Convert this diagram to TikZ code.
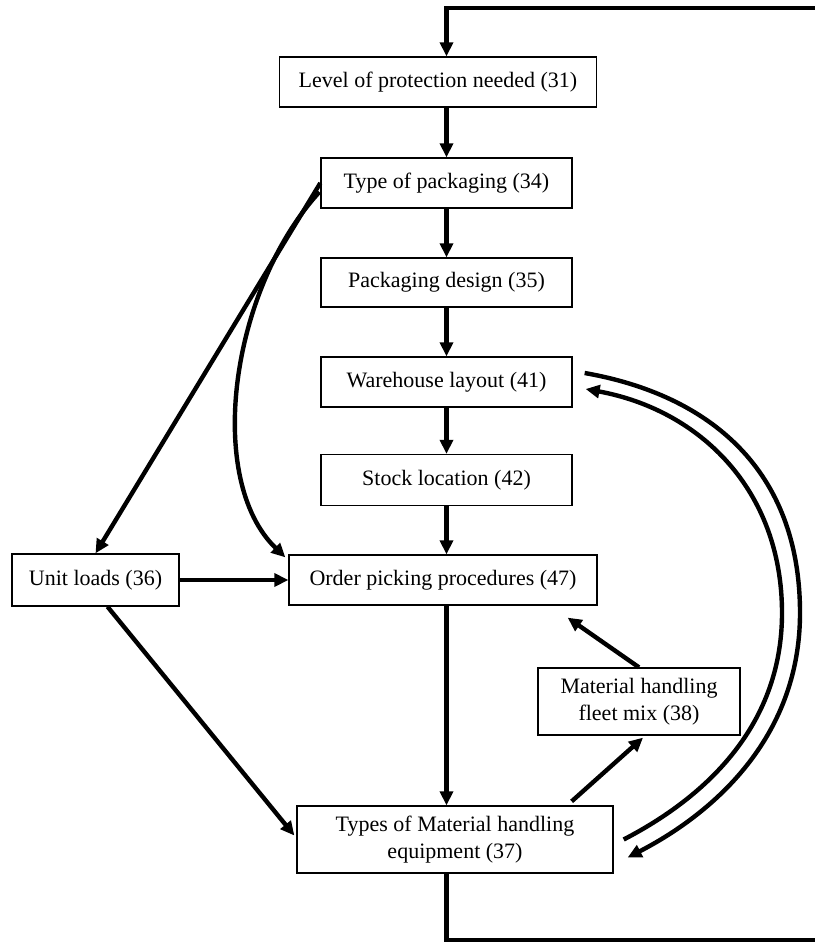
\documentclass[tikz,border=0pt]{standalone}
\usepackage{fontspec}
\setmainfont{Liberation Serif}
\usetikzlibrary{arrows.meta,calc}
\begin{document}
\begin{tikzpicture}[x=1pt,y=-1pt,
  box/.style={draw,line width=1.3pt,inner sep=0pt,align=center,
    font=\fontsize{22}{26.5}\selectfont},
  link/.style={line width=4.4pt,-{Triangle[length=14pt,width=13pt]}}]
\useasboundingbox (0,0) rectangle (814,942);

% boxes
\node[box,minimum width=317,minimum height=50] (lvl) at (438,82) {Level of protection needed (31)};
\node[box,minimum width=251,minimum height=50] (typ) at (446.5,183) {Type of packaging (34)};
\node[box,minimum width=251,minimum height=49] (des) at (446.5,282.5) {Packaging design (35)};
\node[box,minimum width=251,minimum height=50] (wh) at (446.5,382) {Warehouse layout (41)};
\node[box,minimum width=251,minimum height=51] (stk) at (446.5,480) {Stock location (42)};
\node[box,minimum width=308,minimum height=50] (ord) at (443,580) {Order picking procedures (47)};
\node[box,minimum width=167,minimum height=52] (unit) at (95.5,580) {Unit loads (36)};
\node[box,minimum width=316,minimum height=67] (mhe) at (455,839.5) {Types of Material handling\\equipment (37)};
\node[box,minimum width=202,minimum height=67] (fleet) at (639,701.5) {Material handling\\fleet mix (38)};

% main column
\draw[link] (typ.north |- lvl.south) -- (typ.north);
\draw[link] (typ.south) -- (des.north);
\draw[link] (des.south) -- (wh.north);
\draw[link] (wh.south) -- (stk.north);
\draw[link] (stk.south) -- (stk.south |- ord.north);
\draw[link] (stk.south |- ord.south) -- (stk.south |- mhe.north);

% feedback loop; its right-hand side runs past the page edge
\coordinate (loopbr) at (822,940);
\coordinate (looptr) at (822,8);
\draw[link,line join=miter] (mhe.south -| stk.south) |- (loopbr)
  -- (looptr) -| (typ.north |- lvl.north);

% links on the left
\draw[link] (typ.west) -- (unit.north);
\draw[link] ($(typ.west)+(-1,9)$) .. controls (230,290) and (205,480) .. ($(ord.north west)+(-3,3)$);
\draw[link] (unit.east) -- (ord.west);
\draw[link] ($(unit.south)+(12,0)$) -- ($(mhe.west)+(-2,-4)$);

% fleet mix
\draw[link] (fleet.north) -- ($(ord.south east)+(-30,12)$);
\draw[link] ($(mhe.north east)+(-42,-4)$) -- ($(fleet.south)+(4,2)$);

% two-way link between warehouse layout and equipment
\draw[link] ($(wh.east)+(12,-9)$) .. controls (710,395) and (800,470) .. (800,613)
  .. controls (800,740) and (710,815) .. ($(mhe.east)+(14,18)$);
\draw[link] ($(mhe.east)+(10,0)$) .. controls (700,800) and (782,730) .. (782,613)
  .. controls (782,490) and (700,410) .. ($(wh.east)+(13,7)$);
\end{tikzpicture}
\end{document}
